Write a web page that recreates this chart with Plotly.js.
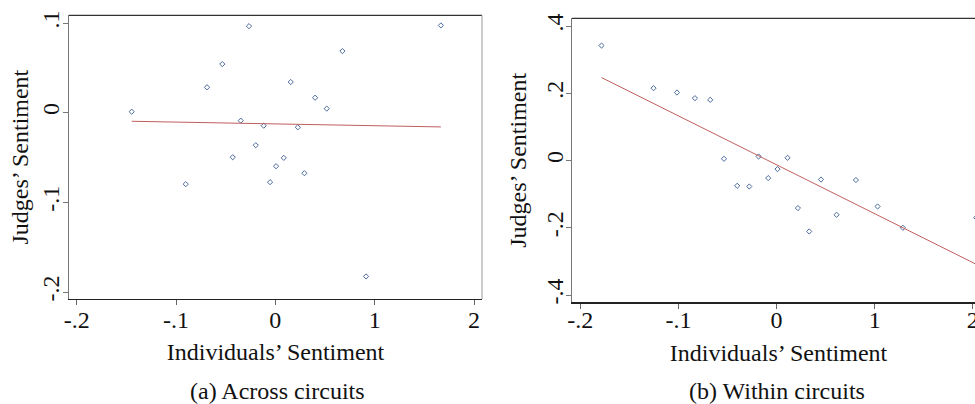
<!DOCTYPE html>
<html>
<head>
<meta charset="utf-8">
<script src="https://cdn.plot.ly/plotly-3.0.1.min.js"></script>
<style>
html,body{margin:0;padding:0;overflow:hidden;background:#ffffff;}
#chart{width:1000px;height:404px;}
</style>
</head>
<body>
<div id="chart"></div>
<script>
// ---- Data ----
// Panel (a): Across circuits
const acrossX = [-1.446, -0.902, -0.688, -0.534, -0.429, -0.348, -0.265, -0.197, -0.117, -0.053,
                 0.007, 0.085, 0.155, 0.226, 0.292, 0.400, 0.517, 0.675, 0.913, 1.666];
const acrossY = [0.0011, -0.0797, 0.0283, 0.0542, -0.0497, -0.0089, 0.0965, -0.0363, -0.0145, -0.0775,
                 -0.0597, -0.0504, 0.0342, -0.0163, -0.0675, 0.0167, 0.0045, 0.0687, -0.1826, 0.0973];
const acrossFitX = [-1.446, 1.666];
const acrossFitY = [-0.0096, -0.0159];

// Panel (b): Within circuits
const withinX = [-1.784, -1.254, -1.015, -0.832, -0.676, -0.536, -0.401, -0.278, -0.183, -0.085,
                 0.010, 0.112, 0.218, 0.333, 0.453, 0.612, 0.809, 1.030, 1.288, 2.036];
const withinY = [0.3418, 0.2152, 0.2021, 0.1854, 0.1804, 0.0051, -0.0752, -0.0773, 0.0119, -0.0523,
                 -0.0256, 0.0080, -0.1415, -0.2110, -0.0565, -0.1614, -0.0582, -0.1367, -0.2000, -0.1700];
const withinFitX = [-1.784, 2.036];
const withinFitY = [0.2467, -0.3087];

// Tick labels
const xTickVals = [-2, -1, 0, 1, 2];
const xTickText = ['-.2', '-.1', '0', '1', '2'];
const acrossYTickVals = [0.1, 0, -0.1, -0.2];
const acrossYTickText = ['.1', '0', '-.1', '-.2'];
const withinYTickVals = [0.4, 0.2, 0, -0.2, -0.4];
const withinYTickText = ['.4', '.2', '0', '-.2', '-.4'];

// Text
const xTitle = 'Individuals\u2019 Sentiment';
const yTitle = 'Judges\u2019 Sentiment';
const captionA = '(a) Across circuits';
const captionB = '(b) Within circuits';

// ---- Styling ----
const FONT = 'Liberation Serif, Times New Roman, serif';
const W = 1000, H = 404;
const markerStyle = {symbol: 'diamond-open', size: 4, color: '#4b6b9e', line: {width: 1, color: '#4b6b9e'}};
const lineStyle = {color: '#bf5f5d', width: 1};

const traces = [
  {x: acrossX, y: acrossY, type: 'scatter', mode: 'markers', marker: markerStyle, xaxis: 'x', yaxis: 'y'},
  {x: acrossFitX, y: acrossFitY, type: 'scatter', mode: 'lines', line: lineStyle, xaxis: 'x', yaxis: 'y'},
  {x: withinX, y: withinY, type: 'scatter', mode: 'markers', marker: markerStyle, xaxis: 'x2', yaxis: 'y2'},
  {x: withinFitX, y: withinFitY, type: 'scatter', mode: 'lines', line: lineStyle, xaxis: 'x2', yaxis: 'y2'}
];

function xAxis(domain, range, anchor, labelShift) {
  return {
    domain: domain, range: range, anchor: anchor,
    tickmode: 'array', tickvals: xTickVals, ticktext: xTickText,
    showgrid: false, zeroline: false,
    showline: true, linecolor: '#222', linewidth: 1.3,
    ticks: 'outside', ticklen: 5, tickcolor: '#666', tickwidth: 1,
    ticklabelstandoff: labelShift,
    tickfont: {family: FONT, size: 24, color: '#111'},
    title: {text: xTitle, font: {family: FONT, size: 24, color: '#111'}, standoff: 11},
    fixedrange: true
  };
}
function yAxis(domain, range, anchor, vals, text, labelShift, titleStandoff) {
  return {
    domain: domain, range: range, anchor: anchor,
    tickmode: 'array', tickvals: vals, ticktext: text, tickangle: -90,
    showgrid: false, zeroline: false,
    showline: true, linecolor: '#777', linewidth: 1.3,
    ticks: 'outside', ticklen: 5, tickcolor: '#777', tickwidth: 1,
    ticklabelstandoff: labelShift,
    tickfont: {family: FONT, size: 24, color: '#111'},
    title: {text: yTitle, font: {family: FONT, size: 24, color: '#111'}, standoff: titleStandoff},
    fixedrange: true
  };
}

const layout = {
  width: W, height: H,
  margin: {l: 0, r: 0, t: 0, b: 0, pad: 0},
  paper_bgcolor: '#ffffff', plot_bgcolor: '#ffffff',
  showlegend: false,
  xaxis: xAxis([69 / W, 482 / W], [-2.077, 2.08], 'y', -6),
  yaxis: yAxis([1 - 299 / H, 1 - 15.3 / H], [-0.2078, 0.1086], 'x', acrossYTickVals, acrossYTickText, -6, 2),
  xaxis2: xAxis([572 / W, 985 / W], [-2.085, 2.125], 'y2', -9),
  yaxis2: yAxis([1 - 302.3 / H, 1 - 18.3 / H], [-0.4217, 0.4229], 'x2', withinYTickVals, withinYTickText, -7, 8),
  shapes: [
    {type: 'line', xref: 'x domain', yref: 'y domain', x0: 0, x1: 1, y0: 1, y1: 1, line: {color: '#333', width: 1.3}},
    {type: 'line', xref: 'x domain', yref: 'y domain', x0: 1, x1: 1, y0: 0, y1: 1, line: {color: '#999', width: 1}},
    {type: 'line', xref: 'x2 domain', yref: 'y2 domain', x0: 0, x1: 1, y0: 1, y1: 1, line: {color: '#333', width: 1.3}},
    {type: 'line', xref: 'x2 domain', yref: 'y2 domain', x0: 1, x1: 1, y0: 0, y1: 1, line: {color: '#999', width: 1}}
  ],
  annotations: [
    {text: captionA, xref: 'paper', yref: 'paper', x: 277 / W, y: 1 - 391 / H, xanchor: 'center', yanchor: 'middle',
     showarrow: false, font: {family: FONT, size: 24, color: '#111'}},
    {text: captionB, xref: 'paper', yref: 'paper', x: 777 / W, y: 1 - 391 / H, xanchor: 'center', yanchor: 'middle',
     showarrow: false, font: {family: FONT, size: 24, color: '#111'}}
  ]
};

Plotly.newPlot('chart', traces, layout, {staticPlot: true, displayModeBar: false});
</script>
</body>
</html>
